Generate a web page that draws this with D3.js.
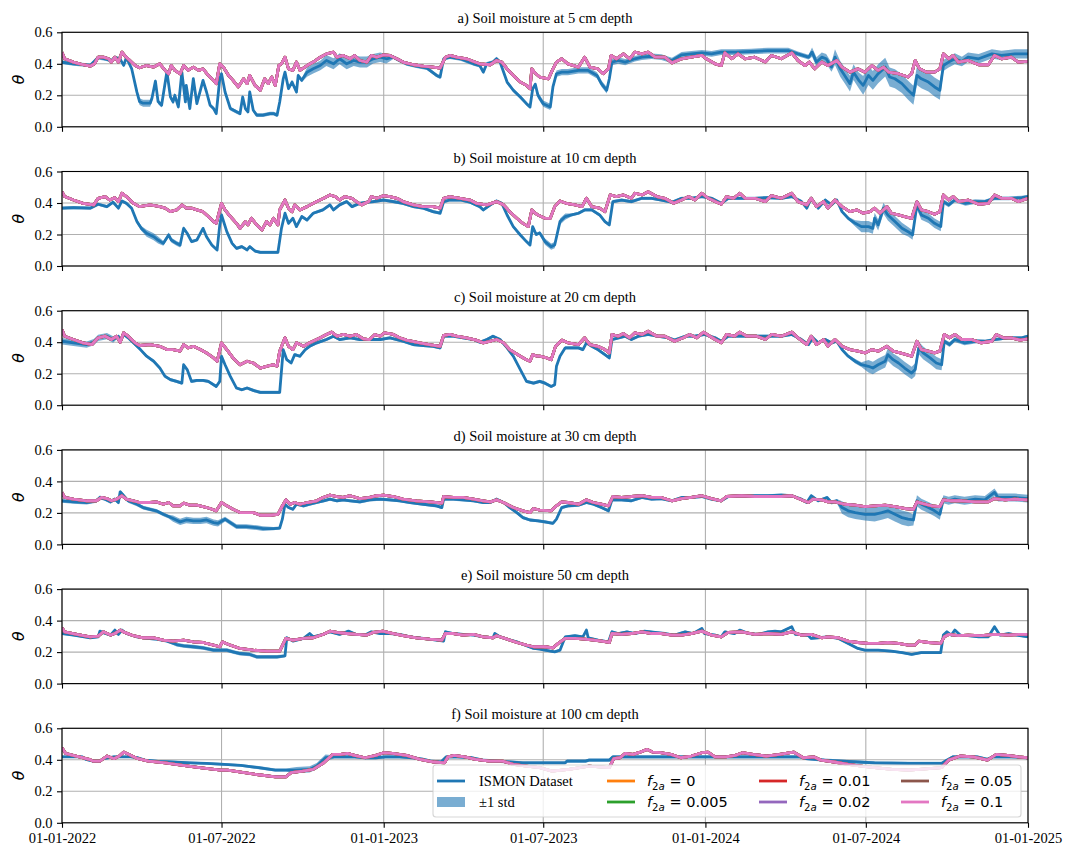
<!DOCTYPE html>
<html>
<head>
<meta charset="utf-8">
<script src="https://cdn.jsdelivr.net/npm/d3@7"></script>
<style>
  html, body { margin: 0; padding: 0; background: #fff; }
</style>
</head>
<body>
<svg id="chart" width="1069" height="850"></svg>
<script>
// ---------------------------------------------------------------------------
// Soil moisture (theta) at six depths, 2022-2024.
// Each series is a list of [day since 2022-01-01, value] pairs.
// ---------------------------------------------------------------------------

const panelTitles = [
  "a) Soil moisture at 5 cm depth",
  "b) Soil moisture at 10 cm depth",
  "c) Soil moisture at 20 cm depth",
  "d) Soil moisture at 30 cm depth",
  "e) Soil moisture 50 cm depth",
  "f) Soil moisture at 100 cm depth"
];

const tickDates = ["2022-01-01", "2022-07-01", "2023-01-01", "2023-07-01", "2024-01-01", "2024-07-01", "2025-01-01"];
const yTickValues = [0, 0.2, 0.4, 0.6];

const obsLabel = "ISMON Dataset";
const stdLabel = "\u00b11 std";
const f2aValues = ["0", "0.005", "0.01", "0.02", "0.05", "0.1"];
const modelColors = ["#ff7f0e", "#2ca02c", "#d62728", "#9467bd", "#8c564b", "#e377c2"];

// ---- 5 cm ----
const obs5 = [[0,.41],[13,.40],[32,.39],[41,.44],[50,.43],[56,.42],[60,.44],[66,.43],[70,.39],[73,.44],[79,.37],[85,.22],[88,.16],[92,.15],[100,.15],[102,.18],[106,.29],[109,.16],[113,.137],[119,.35],[123,.19],[126,.158],[128,.2],[132,.126],[136,.347],[140,.158],[141,.263],[145,.116],[149,.305],[153,.147],[160,.295],[164,.221],[168,.137],[172,.116],[175,.084],[179,.305],[181,.337],[185,.221],[191,.116],[198,.095],[202,.084],[205,.189],[208,.116],[211,.095],[213,.221],[217,.105],[221,.074],[228,.074],[236,.084],[240,.084],[244,.074],[247,.158],[251,.305],[253,.347],[257,.242],[261,.284],[266,.221],[268,.326],[272,.295],[278,.347],[285,.368],[293,.389],[300,.421],[308,.40],[315,.432],[323,.40],[331,.421],[338,.411],[346,.411],[353,.432],[361,.442],[368,.432],[376,.442],[383,.421],[391,.40],[402,.385],[414,.373],[425,.326],[429,.316],[433,.432],[440,.442],[452,.432],[467,.40],[474,.389],[478,.347],[482,.40],[489,.411],[493,.432],[497,.411],[505,.284],[512,.232],[520,.189],[527,.147],[531,.126],[534,.24],[537,.27],[540,.20],[546,.147],[554,.126],[557,.253],[561,.337],[567,.347],[574,.347],[586,.358],[597,.358],[607,.326],[612,.274],[618,.232],[621,.305],[624,.411],[631,.421],[639,.411],[650,.432],[658,.442],[669,.448],[680,.442],[692,.421],[703,.457],[714,.463],[726,.469],[737,.463],[748,.474],[764,.474],[782,.478],[801,.484],[824,.484],[835,.463],[847,.442],[851,.474],[856,.411],[862,.442],[867,.432],[873,.379],[877,.442],[883,.368],[888,.326],[894,.274],[898,.347],[904,.295],[909,.263],[915,.326],[920,.295],[926,.337],[934,.379],[939,.316],[945,.305],[953,.274],[960,.232],[966,.20],[970,.326],[975,.305],[983,.284],[990,.253],[996,.232],[1000,.389],[1006,.411],[1013,.432],[1021,.415],[1028,.442],[1040,.432],[1055,.463],[1066,.453],[1081,.463],[1096,.463]];
const sim5 = [[0,.474],[3,.432],[13,.411],[24,.394],[32,.385],[37,.40],[41,.442],[47,.442],[53,.432],[56,.411],[60,.442],[64,.411],[68,.474],[71,.453],[77,.421],[83,.389],[88,.375],[96,.389],[104,.379],[111,.40],[117,.358],[121,.337],[124,.389],[128,.358],[134,.337],[138,.389],[143,.358],[149,.379],[155,.358],[160,.368],[166,.326],[172,.295],[175,.274],[179,.40],[183,.379],[189,.326],[194,.295],[200,.253],[206,.305],[210,.274],[213,.326],[219,.263],[225,.232],[230,.305],[234,.274],[238,.316],[242,.263],[246,.389],[249,.40],[253,.442],[257,.368],[262,.358],[266,.411],[270,.358],[278,.389],[285,.411],[293,.442],[300,.463],[308,.474],[312,.442],[319,.453],[327,.432],[332,.453],[338,.421],[346,.411],[351,.453],[357,.442],[365,.457],[372,.453],[380,.432],[387,.411],[399,.394],[410,.385],[421,.379],[429,.373],[435,.442],[440,.453],[448,.442],[459,.432],[467,.415],[474,.40],[486,.394],[493,.421],[499,.411],[505,.368],[512,.326],[520,.284],[527,.263],[531,.242],[533,.368],[537,.34],[542,.316],[552,.305],[557,.368],[561,.411],[567,.432],[574,.40],[586,.379],[593,.442],[599,.379],[608,.368],[614,.337],[620,.368],[623,.453],[629,.432],[637,.463],[644,.432],[650,.474],[658,.463],[665,.474],[673,.442],[684,.442],[692,.406],[703,.432],[714,.442],[726,.453],[731,.432],[741,.40],[748,.389],[752,.469],[760,.432],[767,.463],[775,.432],[786,.442],[798,.411],[805,.453],[816,.432],[828,.469],[835,.421],[843,.389],[848,.411],[854,.368],[862,.411],[869,.389],[879,.421],[885,.379],[894,.347],[903,.368],[911,.347],[919,.389],[926,.358],[932,.379],[938,.347],[949,.337],[960,.316],[964,.337],[968,.421],[973,.368],[981,.347],[990,.347],[996,.368],[1000,.463],[1006,.432],[1011,.453],[1017,.411],[1028,.421],[1040,.394],[1051,.394],[1058,.453],[1066,.432],[1077,.442],[1085,.411],[1096,.415]];
// std steps: [first day, std]
const std5 = [[0,.012],[84,.022],[104,.015],[130,.012],[275,.03],[300,.035],[350,.03],[370,.012],[540,.02],[640,.018],[830,.015],[850,.03],[875,.05],[905,.06],[960,.06],[998,.035],[1020,.03]];

// ---- 10 cm ----
const obs10 = [[0,.367],[13,.371],[32,.367],[41,.392],[51,.377],[58,.405],[64,.367],[68,.413],[73,.398],[79,.367],[85,.282],[90,.239],[96,.208],[104,.186],[109,.165],[115,.144],[121,.197],[124,.165],[130,.144],[134,.133],[138,.239],[142,.208],[147,.155],[153,.165],[160,.239],[164,.186],[170,.133],[176,.102],[179,.261],[181,.324],[187,.218],[193,.144],[198,.112],[204,.123],[210,.102],[213,.123],[219,.095],[225,.087],[236,.087],[245,.087],[249,.239],[253,.335],[257,.271],[262,.303],[266,.25],[272,.314],[278,.292],[285,.335],[296,.356],[304,.388],[308,.356],[315,.388],[323,.409],[329,.377],[338,.398],[346,.405],[353,.409],[365,.419],[376,.409],[387,.398],[399,.377],[410,.367],[421,.345],[429,.335],[433,.409],[440,.419],[452,.419],[463,.405],[474,.377],[478,.356],[486,.388],[493,.413],[499,.398],[505,.324],[512,.25],[520,.197],[527,.155],[531,.133],[534,.25],[538,.20],[542,.21],[548,.155],[555,.123],[559,.133],[565,.282],[571,.314],[578,.324],[586,.335],[593,.356],[601,.356],[610,.324],[616,.282],[621,.261],[625,.409],[635,.419],[646,.409],[658,.43],[669,.43],[680,.419],[692,.405],[703,.43],[714,.43],[726,.441],[737,.43],[748,.398],[756,.43],[771,.43],[786,.43],[801,.434],[816,.43],[828,.441],[839,.409],[845,.367],[850,.43],[858,.367],[866,.419],[873,.388],[879,.419],[885,.345],[892,.303],[900,.271],[907,.25],[915,.25],[920,.239],[922,.303],[926,.261],[932,.367],[937,.324],[945,.282],[953,.239],[960,.218],[965,.197],[970,.388],[975,.324],[983,.303],[990,.271],[997,.25],[1000,.409],[1006,.388],[1013,.419],[1025,.398],[1036,.409],[1047,.409],[1058,.43],[1074,.43],[1089,.434],[1096,.441]];
const sim10 = [[0,.472],[3,.441],[13,.419],[24,.398],[36,.388],[41,.43],[49,.441],[54,.419],[60,.434],[64,.409],[68,.462],[73,.441],[81,.398],[88,.377],[100,.388],[111,.377],[117,.367],[123,.345],[130,.356],[136,.388],[141,.367],[147,.367],[153,.356],[160,.345],[166,.314],[172,.282],[175,.271],[181,.398],[185,.356],[191,.314],[198,.271],[202,.239],[208,.282],[211,.261],[215,.303],[221,.261],[227,.229],[232,.282],[236,.261],[240,.303],[245,.261],[247,.356],[253,.419],[257,.367],[261,.345],[264,.388],[270,.356],[278,.377],[289,.409],[297,.43],[304,.451],[310,.441],[315,.419],[321,.441],[329,.43],[334,.409],[340,.388],[348,.409],[351,.441],[357,.43],[365,.447],[372,.441],[380,.43],[387,.409],[399,.388],[410,.377],[421,.377],[429,.367],[433,.43],[440,.441],[452,.43],[463,.419],[470,.398],[482,.388],[493,.409],[501,.388],[508,.345],[516,.303],[523,.271],[529,.25],[533,.356],[537,.335],[540,.324],[548,.303],[554,.303],[559,.377],[565,.413],[572,.398],[582,.388],[590,.377],[595,.43],[601,.377],[610,.367],[616,.345],[622,.451],[629,.441],[637,.451],[646,.43],[650,.462],[658,.451],[665,.472],[675,.441],[684,.43],[694,.398],[703,.419],[711,.441],[718,.419],[726,.462],[733,.43],[741,.409],[748,.392],[754,.441],[762,.43],[769,.462],[775,.43],[786,.43],[798,.409],[805,.447],[816,.43],[828,.462],[835,.409],[845,.388],[850,.43],[856,.377],[864,.409],[869,.367],[877,.419],[885,.377],[894,.345],[902,.356],[909,.335],[917,.345],[922,.367],[928,.335],[936,.377],[941,.335],[949,.324],[956,.314],[964,.303],[970,.409],[975,.356],[983,.345],[990,.328],[996,.345],[1000,.451],[1006,.419],[1011,.441],[1017,.409],[1028,.419],[1040,.392],[1051,.398],[1058,.451],[1066,.43],[1077,.43],[1085,.409],[1096,.43]];
const std10 = [[0,.01],[84,.015],[95,.022],[110,.015],[140,.01],[548,.02],[575,.01],[895,.02],[905,.035],[960,.03],[998,.015],[1040,.012]];

// ---- 20 cm ----
const obs20 = [[0,.406],[13,.396],[28,.385],[36,.4],[41,.428],[51,.438],[58,.417],[64,.438],[66,.406],[70,.449],[75,.428],[81,.396],[89,.353],[96,.311],[104,.279],[111,.236],[117,.183],[123,.162],[130,.151],[136,.14],[138,.257],[142,.226],[147,.151],[153,.157],[160,.157],[166,.151],[172,.13],[175,.119],[179,.151],[181,.311],[185,.257],[191,.183],[198,.109],[204,.098],[210,.109],[217,.094],[225,.081],[236,.081],[247,.081],[251,.353],[255,.289],[260,.268],[264,.321],[270,.311],[276,.353],[281,.374],[289,.396],[300,.417],[308,.438],[315,.417],[327,.428],[338,.417],[349,.417],[361,.417],[372,.428],[387,.406],[399,.385],[410,.379],[421,.374],[429,.364],[433,.438],[444,.438],[455,.428],[467,.417],[474,.4],[482,.417],[489,.438],[497,.417],[505,.364],[512,.311],[520,.226],[527,.151],[535,.14],[542,.151],[548,.14],[555,.119],[559,.13],[561,.247],[565,.311],[571,.364],[586,.364],[591,.353],[595,.396],[601,.374],[608,.353],[616,.321],[621,.3],[624,.417],[639,.438],[646,.417],[654,.438],[665,.449],[676,.438],[688,.428],[695,.413],[707,.438],[718,.438],[729,.449],[741,.428],[748,.406],[756,.438],[771,.438],[786,.438],[801,.438],[816,.438],[828,.449],[839,.417],[847,.385],[852,.428],[858,.396],[866,.417],[873,.396],[879,.406],[885,.353],[892,.311],[900,.279],[907,.257],[915,.247],[920,.236],[926,.257],[934,.279],[937,.321],[943,.289],[949,.268],[956,.236],[964,.204],[968,.226],[972,.364],[977,.332],[985,.3],[992,.268],[998,.257],[1001,.406],[1007,.385],[1013,.417],[1024,.396],[1036,.406],[1047,.406],[1058,.417],[1074,.428],[1089,.428],[1096,.438]];
const sim20 = [[0,.481],[3,.438],[13,.417],[24,.396],[34,.385],[41,.428],[49,.438],[56,.417],[62,.438],[66,.4],[70,.46],[75,.438],[83,.396],[88,.379],[100,.385],[111,.374],[119,.353],[126,.353],[134,.343],[138,.385],[143,.364],[149,.374],[157,.353],[164,.332],[172,.3],[176,.279],[181,.396],[187,.353],[194,.3],[202,.257],[210,.279],[217,.268],[225,.236],[232,.247],[240,.257],[244,.247],[247,.343],[253,.428],[257,.374],[262,.353],[266,.396],[274,.374],[281,.396],[293,.428],[300,.449],[306,.464],[312,.438],[319,.449],[327,.438],[334,.449],[342,.421],[349,.417],[355,.449],[361,.438],[366,.46],[376,.449],[383,.428],[391,.413],[406,.396],[417,.385],[429,.374],[433,.443],[440,.449],[448,.438],[459,.428],[470,.413],[478,.396],[486,.406],[493,.417],[501,.396],[508,.353],[520,.311],[527,.289],[531,.279],[534,.321],[539,.311],[542,.311],[550,.3],[555,.289],[560,.374],[567,.413],[574,.396],[586,.385],[593,.428],[599,.385],[608,.374],[616,.353],[621,.332],[624,.449],[631,.438],[637,.455],[644,.428],[650,.46],[658,.449],[665,.47],[675,.438],[684,.438],[695,.406],[705,.428],[712,.449],[720,.428],[728,.464],[735,.438],[741,.417],[748,.396],[754,.449],[763,.438],[769,.464],[777,.438],[788,.438],[798,.417],[805,.449],[816,.438],[828,.464],[835,.428],[845,.385],[850,.438],[856,.385],[864,.417],[869,.374],[877,.417],[885,.374],[894,.353],[903,.343],[911,.332],[919,.353],[926,.343],[936,.374],[943,.343],[951,.332],[958,.321],[964,.311],[970,.406],[975,.353],[983,.343],[990,.332],[996,.343],[1001,.449],[1007,.428],[1013,.449],[1021,.417],[1032,.417],[1043,.396],[1055,.406],[1060,.449],[1068,.428],[1077,.428],[1087,.413],[1096,.421]];
const std20 = [[0,.02],[60,.01],[895,.015],[910,.04],[960,.04],[998,.035],[1001,.015],[1040,.01]];

// ---- 30 cm ----
const obs30 = [[0,.277],[13,.27],[28,.266],[39,.277],[43,.298],[49,.287],[55,.27],[60,.287],[64,.266],[66,.334],[70,.309],[75,.277],[85,.255],[92,.234],[100,.223],[107,.213],[115,.191],[121,.177],[126,.164],[134,.143],[141,.155],[149,.149],[157,.149],[164,.155],[172,.138],[177,.134],[185,.16],[191,.138],[198,.113],[209,.113],[221,.106],[228,.10],[240,.10],[247,.104],[250,.16],[253,.255],[257,.234],[262,.223],[266,.255],[274,.245],[281,.255],[289,.266],[297,.277],[304,.287],[312,.277],[319,.283],[327,.277],[338,.27],[349,.283],[361,.287],[372,.283],[383,.277],[395,.266],[410,.255],[425,.245],[431,.234],[433,.287],[444,.287],[455,.283],[467,.277],[478,.266],[486,.266],[493,.287],[501,.266],[508,.234],[516,.202],[523,.17],[531,.155],[540,.15],[548,.143],[557,.134],[561,.16],[567,.234],[574,.245],[586,.249],[595,.266],[603,.255],[612,.234],[620,.213],[624,.283],[635,.283],[646,.277],[658,.298],[669,.287],[680,.291],[692,.277],[703,.298],[714,.298],[726,.304],[737,.287],[748,.277],[756,.304],[771,.304],[786,.309],[801,.309],[816,.313],[828,.309],[839,.287],[845,.266],[850,.309],[858,.277],[868,.298],[873,.266],[879,.277],[885,.234],[892,.213],[900,.202],[911,.191],[922,.191],[930,.202],[937,.213],[945,.191],[953,.17],[960,.16],[966,.155],[970,.277],[975,.255],[983,.234],[990,.213],[996,.191],[1000,.287],[1006,.277],[1013,.287],[1024,.277],[1036,.287],[1047,.283],[1058,.33],[1062,.298],[1070,.298],[1081,.298],[1096,.291]];
const sim30 = [[0,.33],[3,.298],[13,.287],[28,.277],[39,.277],[45,.298],[51,.291],[56,.277],[62,.287],[68,.309],[73,.287],[81,.277],[88,.266],[100,.266],[107,.27],[115,.255],[121,.266],[126,.245],[134,.245],[138,.262],[145,.249],[153,.249],[160,.24],[168,.228],[175,.213],[181,.266],[187,.245],[194,.223],[202,.202],[209,.202],[217,.202],[225,.185],[236,.185],[245,.191],[249,.234],[254,.283],[259,.255],[264,.266],[270,.255],[278,.266],[289,.277],[296,.298],[304,.313],[312,.304],[319,.298],[327,.309],[338,.291],[349,.298],[357,.309],[365,.313],[376,.304],[387,.287],[402,.277],[418,.27],[431,.262],[433,.304],[444,.298],[455,.298],[467,.287],[478,.277],[486,.27],[493,.283],[501,.266],[512,.234],[523,.213],[531,.202],[535,.228],[542,.218],[555,.213],[561,.245],[567,.27],[574,.266],[586,.255],[595,.283],[603,.266],[612,.255],[620,.245],[625,.304],[635,.298],[646,.304],[658,.309],[669,.298],[680,.298],[692,.277],[703,.291],[714,.298],[726,.309],[737,.291],[748,.277],[754,.304],[771,.309],[786,.304],[801,.304],[816,.304],[828,.309],[839,.283],[847,.266],[852,.287],[862,.283],[869,.27],[877,.27],[888,.255],[900,.249],[911,.24],[922,.245],[934,.249],[945,.24],[956,.228],[966,.223],[970,.27],[977,.259],[987,.245],[996,.24],[1000,.283],[1009,.277],[1021,.277],[1036,.27],[1051,.27],[1058,.291],[1070,.283],[1081,.287],[1096,.283]];
const std30 = [[0,.012],[125,.02],[180,.015],[240,.01],[870,.012],[882,.04],[920,.045],[965,.035],[998,.025]];

// ---- 50 cm ----
const obs50 = [[0,.318],[13,.308],[32,.291],[41,.297],[43,.333],[49,.318],[55,.308],[60,.34],[64,.312],[68,.34],[73,.318],[85,.297],[96,.287],[107,.282],[119,.27],[130,.248],[138,.24],[149,.234],[160,.227],[172,.212],[179,.212],[187,.212],[194,.202],[202,.191],[213,.185],[221,.17],[232,.17],[244,.17],[253,.176],[255,.291],[262,.27],[274,.287],[281,.318],[285,.297],[296,.312],[304,.329],[315,.312],[325,.333],[334,.312],[344,.308],[351,.329],[361,.318],[372,.318],[383,.312],[395,.297],[410,.287],[425,.276],[433,.27],[435,.329],[444,.318],[455,.312],[467,.308],[478,.297],[489,.291],[491,.318],[497,.297],[505,.282],[516,.265],[527,.24],[535,.223],[542,.219],[548,.212],[559,.202],[565,.212],[571,.297],[582,.304],[591,.297],[595,.34],[597,.291],[608,.276],[620,.265],[624,.329],[631,.318],[641,.329],[650,.318],[661,.333],[673,.325],[684,.318],[695,.308],[707,.329],[716,.318],[726,.35],[729,.318],[741,.308],[748,.297],[752,.329],[763,.318],[769,.34],[779,.318],[790,.312],[801,.329],[809,.333],[816,.329],[828,.361],[832,.312],[839,.312],[847,.304],[850,.287],[858,.291],[869,.297],[881,.287],[892,.255],[903,.223],[911,.212],[926,.212],[941,.206],[953,.197],[964,.185],[975,.197],[987,.197],[997,.197],[1000,.308],[1004,.329],[1009,.308],[1013,.34],[1019,.308],[1028,.304],[1040,.297],[1051,.297],[1058,.361],[1064,.308],[1074,.318],[1083,.308],[1096,.297]];
const sim50 = [[0,.355],[3,.329],[17,.312],[32,.297],[41,.301],[47,.329],[55,.308],[60,.318],[66,.34],[71,.325],[81,.304],[92,.291],[104,.291],[115,.276],[126,.27],[138,.276],[149,.265],[160,.261],[172,.244],[179,.234],[182,.265],[191,.244],[202,.223],[217,.212],[232,.206],[247,.206],[254,.287],[262,.276],[274,.287],[285,.291],[296,.312],[304,.333],[312,.325],[323,.318],[334,.312],[346,.308],[353,.325],[364,.333],[376,.318],[387,.304],[402,.291],[417,.282],[431,.276],[435,.318],[444,.318],[455,.308],[467,.312],[478,.297],[489,.291],[493,.304],[505,.282],[516,.261],[527,.244],[535,.234],[548,.234],[557,.227],[563,.255],[571,.287],[582,.287],[593,.282],[603,.276],[612,.27],[621,.261],[624,.318],[635,.312],[646,.318],[658,.329],[669,.318],[680,.318],[692,.308],[703,.308],[714,.318],[726,.333],[737,.308],[748,.297],[756,.325],[771,.329],[786,.312],[801,.318],[816,.312],[828,.329],[839,.308],[850,.312],[862,.291],[869,.297],[881,.291],[892,.27],[903,.261],[915,.255],[926,.255],[937,.261],[949,.255],[960,.244],[968,.244],[972,.27],[983,.261],[997,.255],[1001,.297],[1006,.312],[1017,.304],[1028,.308],[1043,.304],[1058,.312],[1074,.308],[1085,.312],[1096,.312]];
const std50 = [[0,.008],[130,.012],[252,.008]];

// ---- 100 cm ----
const obs100 = [[0,.419],[23,.419],[27,.403],[35,.392],[43,.392],[47,.407],[59,.419],[70,.419],[78,.419],[86,.413],[94,.398],[109,.39],[125,.386],[145,.381],[164,.377],[184,.371],[203,.364],[223,.35],[242,.335],[254,.335],[266,.335],[281,.339],[289,.36],[299,.413],[309,.419],[320,.419],[332,.419],[344,.413],[356,.413],[367,.419],[383,.419],[398,.413],[410,.403],[418,.392],[430,.386],[436,.419],[449,.419],[465,.413],[477,.398],[492,.392],[508,.386],[523,.381],[542,.381],[555,.381],[571,.381],[573,.392],[594,.392],[598,.398],[621,.398],[625,.419],[652,.419],[691,.419],[729,.419],[768,.419],[807,.419],[837,.419],[845,.407],[865,.398],[884,.392],[903,.386],[922,.381],[961,.377],[998,.377],[1004,.398],[1011,.419],[1038,.419],[1050,.403],[1056,.419],[1077,.419],[1096,.413]];
const sim100 = [[0,.477],[4,.441],[16,.424],[31,.403],[35,.392],[43,.392],[51,.424],[59,.407],[65,.424],[70,.449],[76,.434],[86,.407],[98,.392],[117,.381],[137,.364],[156,.35],[180,.335],[188,.335],[203,.322],[223,.305],[242,.292],[254,.292],[260,.318],[273,.328],[285,.339],[297,.381],[307,.434],[316,.434],[324,.441],[332,.428],[344,.413],[356,.428],[365,.445],[375,.441],[391,.428],[406,.403],[422,.386],[434,.381],[438,.419],[445,.428],[457,.419],[469,.403],[485,.392],[500,.392],[512,.371],[527,.36],[542,.35],[556,.328],[575,.339],[598,.36],[621,.35],[626,.407],[633,.413],[639,.441],[648,.434],[656,.449],[664,.466],[670,.449],[679,.445],[691,.434],[702,.413],[714,.424],[726,.445],[733,.449],[741,.419],[753,.419],[764,.428],[772,.445],[784,.434],[799,.424],[814,.434],[830,.449],[841,.413],[853,.419],[861,.398],[876,.386],[892,.371],[907,.36],[922,.35],[942,.339],[961,.335],[980,.343],[998,.35],[1006,.398],[1019,.424],[1034,.419],[1050,.398],[1060,.434],[1073,.428],[1085,.419],[1096,.413]];
const std100 = [[0,.008],[220,.01],[260,.02],[300,.01]];

// ---------------------------------------------------------------------------
const panels = [
  { title: panelTitles[0], obs: obs5,   sim: sim5,   std: std5 },
  { title: panelTitles[1], obs: obs10,  sim: sim10,  std: std10 },
  { title: panelTitles[2], obs: obs20,  sim: sim20,  std: std20 },
  { title: panelTitles[3], obs: obs30,  sim: sim30,  std: std30 },
  { title: panelTitles[4], obs: obs50,  sim: sim50,  std: std50 },
  { title: panelTitles[5], obs: obs100, sim: sim100, std: std100 }
];

const BLUE = "#1f77b4";
const GRID = "#b0b0b0";
const FONT_SERIF = "'Liberation Serif', 'Times New Roman', serif";
const FONT_MATH = "'DejaVu Sans', sans-serif";
const LINE_W = 2.8;

const ML = 62, MR = 1028, TOP0 = 32.3, PH = 94.5, STEP = 139.2;
const DAY_MS = 864e5, T0 = Date.UTC(2022, 0, 1);
const dateOf = d => new Date(T0 + d * DAY_MS);

const x = d3.scaleUtc().domain([dateOf(0), dateOf(1096)]).range([ML, MR]);
const xTicks = tickDates.map(s => new Date(s + "T00:00:00Z"));
const fmtDate = d3.utcFormat("%d-%m-%Y");

// step lookup of the standard deviation in force on a given day
function stdAt(steps, day) {
  let s = steps[0][1];
  for (const [d0, v] of steps) { if (d0 <= day) s = v; else break; }
  return s;
}

const svg = d3.select("#chart");
svg.append("rect").attr("width", 1069).attr("height", 850).attr("fill", "#fff");
const defs = svg.append("defs");

panels.forEach((p, i) => {
  const top = TOP0 + i * STEP, bottom = top + PH;
  const y = d3.scaleLinear().domain([0, 0.6]).range([bottom, top]);
  const g = svg.append("g");

  // grid
  g.append("g").selectAll("line").data(yTickValues).join("line")
    .attr("x1", ML).attr("x2", MR).attr("y1", d => y(d)).attr("y2", d => y(d))
    .attr("stroke", GRID).attr("stroke-width", 1.1);
  g.append("g").selectAll("line").data(xTicks).join("line")
    .attr("x1", d => x(d)).attr("x2", d => x(d)).attr("y1", top).attr("y2", bottom)
    .attr("stroke", GRID).attr("stroke-width", 1.1);

  const clipId = "plot-clip-" + i;
  defs.append("clipPath").attr("id", clipId).append("rect")
    .attr("x", ML).attr("y", top).attr("width", MR - ML).attr("height", PH);
  const plot = g.append("g").attr("clip-path", `url(#${clipId})`);

  // +/- 1 std band
  const band = d3.area()
    .x(d => x(dateOf(d[0])))
    .y0(d => y(d[1] - stdAt(p.std, d[0])))
    .y1(d => y(d[1] + stdAt(p.std, d[0])));
  plot.append("path").datum(p.obs).attr("d", band)
    .attr("fill", BLUE).attr("fill-opacity", 0.6).attr("stroke", "none");

  const line = d3.line().x(d => x(dateOf(d[0]))).y(d => y(d[1]));

  // observed mean
  plot.append("path").datum(p.obs).attr("d", line)
    .attr("fill", "none").attr("stroke", BLUE).attr("stroke-width", LINE_W)
    .attr("stroke-linejoin", "round");

  // simulated runs (the f2a runs coincide; drawn in order, 0.1 on top)
  modelColors.forEach(c => {
    plot.append("path").datum(p.sim).attr("d", line)
      .attr("fill", "none").attr("stroke", c).attr("stroke-width", LINE_W)
      .attr("stroke-linejoin", "round");
  });

  // frame
  g.append("rect").attr("x", ML).attr("y", top).attr("width", MR - ML).attr("height", PH)
    .attr("fill", "none").attr("stroke", "#000").attr("stroke-width", 1.1);

  // y axis
  const ya = g.append("g").attr("transform", `translate(${ML},0)`)
    .call(d3.axisLeft(y).tickValues(yTickValues).tickFormat(d3.format(".1f"))
      .tickSize(5).tickPadding(4.5));
  ya.select(".domain").remove();
  ya.attr("font-family", FONT_SERIF).attr("font-size", 14.5);
  ya.selectAll(".tick line").attr("stroke-width", 1.1);
  ya.selectAll(".tick text").attr("fill", "#000");

  // x axis (labels only on the bottom panel)
  const xa = g.append("g").attr("transform", `translate(0,${bottom})`)
    .call(d3.axisBottom(x).tickValues(xTicks)
      .tickFormat(i === panels.length - 1 ? fmtDate : () => "")
      .tickSize(5).tickPadding(4.5));
  xa.select(".domain").remove();
  xa.attr("font-family", FONT_SERIF).attr("font-size", 14.5);
  xa.selectAll(".tick line").attr("stroke-width", 1.1);
  xa.selectAll(".tick text").attr("fill", "#000");

  // title
  g.append("text").attr("x", (ML + MR) / 2).attr("y", top - 9)
    .attr("text-anchor", "middle").attr("font-family", FONT_SERIF)
    .attr("font-size", 14.5).attr("fill", "#000").text(p.title);

  // y label
  g.append("text")
    .attr("transform", `translate(24,${(top + bottom) / 2}) rotate(-90)`)
    .attr("text-anchor", "middle").attr("font-family", FONT_MATH)
    .attr("font-style", "italic").attr("font-size", 15.5).attr("fill", "#000")
    .text("\u03b8");
});

// ---------------------------------------------------------------------------
// legend in the bottom panel
const lg = svg.append("g");
const LX = 433, LY = 765, LW = 588, LH = 52;
lg.append("rect").attr("x", LX).attr("y", LY).attr("width", LW).attr("height", LH)
  .attr("rx", 3).attr("fill", "#fff").attr("fill-opacity", 0.8)
  .attr("stroke", "#cccccc").attr("stroke-opacity", 0.8).attr("stroke-width", 1.1);

const colX = [437, 607, 759, 901];
const rowY = [781, 802];
const HL = 28, TXT = 42;

lg.append("line").attr("x1", colX[0]).attr("x2", colX[0] + HL)
  .attr("y1", rowY[0]).attr("y2", rowY[0])
  .attr("stroke", BLUE).attr("stroke-width", LINE_W);
lg.append("text").attr("x", colX[0] + TXT).attr("y", rowY[0] + 5)
  .attr("font-family", FONT_SERIF).attr("font-size", 14.5).attr("fill", "#000").text(obsLabel);

lg.append("rect").attr("x", colX[0]).attr("y", rowY[1] - 5).attr("width", HL).attr("height", 10)
  .attr("fill", BLUE).attr("fill-opacity", 0.6);
lg.append("text").attr("x", colX[0] + TXT).attr("y", rowY[1] + 5)
  .attr("font-family", FONT_SERIF).attr("font-size", 14.5).attr("fill", "#000").text(stdLabel);

f2aValues.forEach((v, k) => {
  const cx = colX[1 + Math.floor(k / 2)], cy = rowY[k % 2];
  lg.append("line").attr("x1", cx).attr("x2", cx + HL).attr("y1", cy).attr("y2", cy)
    .attr("stroke", modelColors[k]).attr("stroke-width", LINE_W);
  const t = lg.append("text").attr("x", cx + TXT - 2).attr("y", cy + 5)
    .attr("font-family", FONT_MATH).attr("font-size", 14.5).attr("fill", "#000")
    .attr("xml:space", "preserve");
  t.append("tspan").attr("font-style", "italic").text("f");
  t.append("tspan").attr("font-size", 10.2).attr("dy", 3.5).text("2");
  t.append("tspan").attr("font-size", 10.2).attr("font-style", "italic").text("a");
  t.append("tspan").attr("dy", -3.5).text("\u00a0=\u00a0" + v);
});
</script>
</body>
</html>
